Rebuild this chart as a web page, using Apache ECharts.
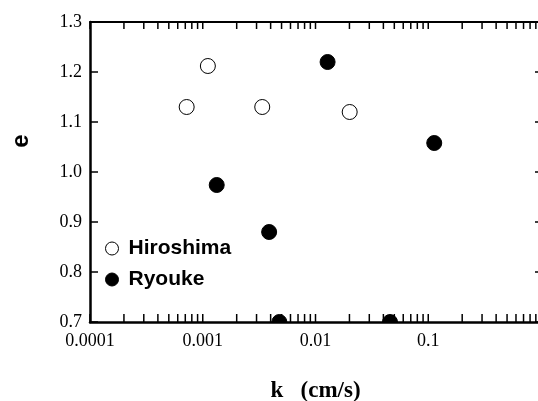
<!DOCTYPE html>
<html>
<head>
<meta charset="utf-8">
<script src="https://cdn.jsdelivr.net/npm/echarts@6/dist/echarts.min.js"></script>
<style>
  html, body { margin: 0; padding: 0; background: #fff; }
  #chart { width: 538px; height: 401px; }
</style>
</head>
<body>
<div id="chart"></div>
<script>
// permeability k (cm/s) vs void ratio e
const hiroshimaK = [0.00072, 0.00111, 0.00337, 0.0201];
const hiroshimaE = [1.13, 1.212, 1.13, 1.12];
const ryoukeK = [0.00133, 0.00388, 0.00478, 0.0128, 0.0458, 0.113];
const ryoukeE = [0.974, 0.88, 0.70, 1.22, 0.70, 1.058];

// log tick marks: decades times 1..9
const decades = [0.0001, 0.001, 0.01, 0.1];
const tickSteps = [1, 2, 3, 4, 5, 6, 7, 8, 9];

const serif = '"Liberation Serif", "DejaVu Serif", serif';
const sans = '"Liberation Sans", Arial, sans-serif';

const tickValues = [];
decades.forEach(d => tickSteps.forEach(s => tickValues.push([d * s])));
tickValues.push([1]);

const toPairs = (xs, ys) => xs.map((x, i) => [x, ys[i]]);

const chart = echarts.init(document.getElementById('chart'));

// draws one marker through the axes, clipped to the plot
function dotRenderer(fill) {
  return (params, api) => {
    const p = api.coord([api.value(0), api.value(1)]);
    return {
      type: 'circle',
      shape: { cx: p[0], cy: p[1], r: 7.5 },
      style: { fill: fill, stroke: '#000', lineWidth: 1 }
    };
  };
}

chart.setOption({
  animation: false,
  backgroundColor: '#fff',
  grid: {
    left: 90, right: -3, top: 22, bottom: 79,
    outerBoundsMode: 'none'
  },
  legend: {
    orient: 'vertical',
    left: 105,
    top: 238,
    padding: 0,
    itemGap: 10,
    itemWidth: 13,
    itemHeight: 13,
    textStyle: { fontFamily: sans, fontWeight: 'bold', fontSize: 21, color: '#000', padding: [0, 0, 0, 5] },
    data: [
      { name: 'Hiroshima', icon: 'circle', itemStyle: { color: '#fff', borderColor: '#000', borderWidth: 1 } },
      { name: 'Ryouke', icon: 'circle', itemStyle: { color: '#000', borderColor: '#000', borderWidth: 1 } }
    ]
  },
  xAxis: [{
    type: 'log',
    logBase: 10,
    min: 0.0001,
    max: 1,
    position: 'bottom',
    name: 'k   (cm/s)',
    nameLocation: 'middle',
    nameGap: 58,
    nameTextStyle: { fontFamily: serif, fontWeight: 'bold', fontSize: 23, color: '#000' },
    axisLine: { show: true, lineStyle: { color: '#000', width: 2.5 } },
    axisTick: { show: false },
    splitLine: { show: false },
    axisLabel: {
      fontFamily: serif, fontSize: 18, color: '#000', margin: 10,
      showMaxLabel: false,
      formatter: v => {
        const e = Math.round(Math.log10(v));
        return e < 0 ? Math.pow(10, e).toFixed(-e) : '1';
      }
    }
  }, {
    type: 'log',
    logBase: 10,
    min: 0.0001,
    max: 1,
    position: 'top',
    axisLine: { show: true, lineStyle: { color: '#000', width: 2 } },
    axisTick: { show: false },
    axisLabel: { show: false },
    splitLine: { show: false }
  }],
  yAxis: [{
    type: 'value',
    min: 0.7,
    max: 1.3,
    interval: 0.1,
    position: 'left',
    axisLine: { show: true, lineStyle: { color: '#000', width: 2.5 } },
    axisTick: { show: true, inside: true, length: 8, lineStyle: { color: '#000', width: 1.5 } },
    splitLine: { show: false },
    axisLabel: {
      fontFamily: serif, fontSize: 18, color: '#000', margin: 8,
      formatter: v => v.toFixed(1)
    }
  }, {
    type: 'value',
    min: 0.7,
    max: 1.3,
    interval: 0.1,
    position: 'right',
    axisLine: { show: true, lineStyle: { color: '#000', width: 2 } },
    axisTick: { show: true, inside: true, length: 6, lineStyle: { color: '#000', width: 1.5 } },
    axisLabel: { show: false },
    splitLine: { show: false }
  }],
  graphic: [{
    type: 'text',
    x: 21,
    y: 141,
    rotation: Math.PI / 2,
    style: {
      text: 'e',
      fontFamily: sans,
      fontWeight: 'bold',
      fontSize: 24,
      fill: '#000',
      align: 'center',
      verticalAlign: 'middle'
    }
  }],
  series: [{
    // log ticks on bottom and top frame lines
    name: 'ticks',
    type: 'custom',
    clip: false,
    silent: true,
    data: tickValues,
    encode: { x: 0 },
    renderItem: (params, api) => {
      const b = api.coord([api.value(0), 0.7]);
      const t = api.coord([api.value(0), 1.3]);
      const style = { stroke: '#000', lineWidth: 1.5 };
      return {
        type: 'group',
        children: [
          { type: 'line', shape: { x1: b[0], y1: b[1], x2: b[0], y2: b[1] - 8 }, style: style },
          { type: 'line', shape: { x1: t[0], y1: t[1], x2: t[0], y2: t[1] + 7 }, style: style }
        ]
      };
    }
  }, {
    name: 'Hiroshima',
    type: 'custom',
    clip: true,
    data: toPairs(hiroshimaK, hiroshimaE),
    encode: { x: 0, y: 1 },
    renderItem: dotRenderer('#fff')
  }, {
    name: 'Ryouke',
    type: 'custom',
    clip: true,
    data: toPairs(ryoukeK, ryoukeE),
    encode: { x: 0, y: 1 },
    renderItem: dotRenderer('#000')
  }]
});
</script>
</body>
</html>
